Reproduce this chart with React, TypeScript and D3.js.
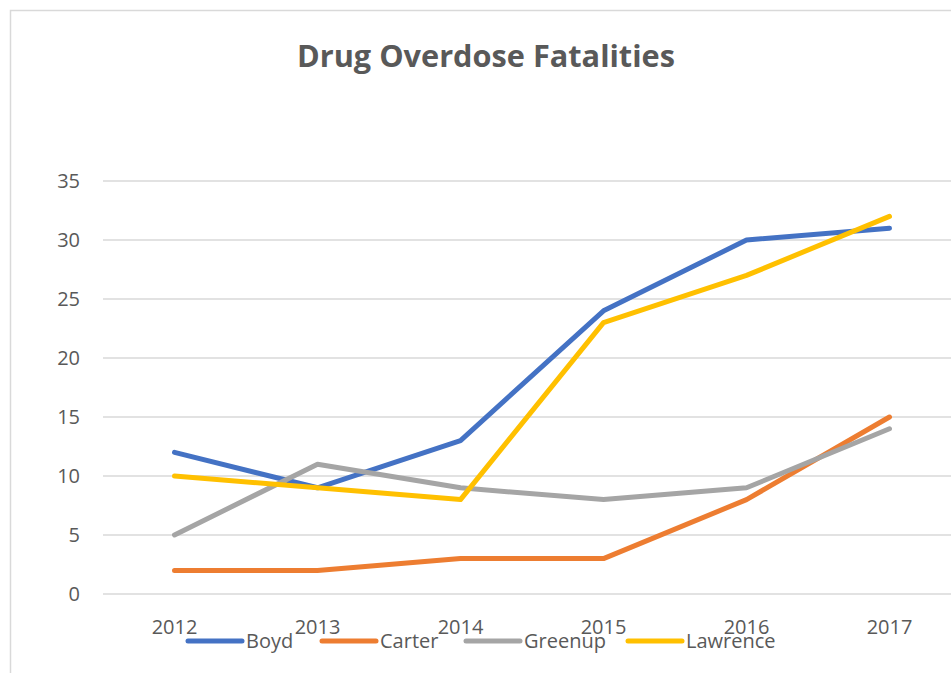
import { useEffect, useRef } from 'react';
import * as d3 from 'd3';

const YEARS = ['2012', '2013', '2014', '2015', '2016', '2017'];
const SERIES_NAMES = ['Boyd', 'Carter', 'Greenup', 'Lawrence'];
const BOYD = [12, 9, 13, 24, 30, 31];
const CARTER = [2, 2, 3, 3, 8, 15];
const GREENUP = [5, 11, 9, 8, 9, 14];
const LAWRENCE = [10, 9, 8, 23, 27, 32];
const Y_TICKS = [0, 5, 10, 15, 20, 25, 30, 35];
const COLORS = ['#4472C4', '#ED7D31', '#A5A5A5', '#FFC000'];

const W = 951;
const H = 673;
const FONT = '"Open Sans", "Noto Sans", sans-serif';

export default function App() {
  const svgRef = useRef<SVGSVGElement>(null);

  useEffect(() => {
    if (!svgRef.current) return;
    const svg = d3.select(svgRef.current);
    svg.selectAll('*').remove();

    const values = [BOYD, CARTER, GREENUP, LAWRENCE];
    const margin = { top: 181, left: 103, bottom: 594 };
    const plotRight = 961;

    // chart frame, runs off the right and bottom edges like the original
    svg.append('rect')
      .attr('x', 10.5).attr('y', 10.5)
      .attr('width', 980).attr('height', 700)
      .attr('fill', '#fff').attr('stroke', '#d9d9d9').attr('stroke-width', 1.5);

    const x = d3.scaleBand().domain(YEARS).range([margin.left, plotRight]);
    const y = d3.scaleLinear().domain([0, 35]).range([margin.bottom, margin.top]);

    // gridlines
    svg.append('g')
      .selectAll('line')
      .data(Y_TICKS)
      .join('line')
      .attr('x1', margin.left).attr('x2', plotRight)
      .attr('y1', (d) => y(d)).attr('y2', (d) => y(d))
      .attr('stroke', '#d9d9d9').attr('stroke-width', 1.5);

    // y labels
    svg.append('g')
      .selectAll('text')
      .data(Y_TICKS)
      .join('text')
      .attr('x', 80).attr('y', (d) => y(d))
      .attr('dy', '0.35em')
      .attr('text-anchor', 'end')
      .style('font-family', FONT).style('font-size', '20px').style('fill', '#595959')
      .text((d) => d);

    // x labels
    svg.append('g')
      .selectAll('text')
      .data(YEARS)
      .join('text')
      .attr('x', (d) => (x(d) ?? 0) + x.bandwidth() / 2)
      .attr('y', 634)
      .attr('text-anchor', 'middle')
      .style('font-family', FONT).style('font-size', '20px').style('fill', '#595959')
      .text((d) => d);

    const line = d3.line<number>()
      .x((_, i) => (x(YEARS[i]) ?? 0) + x.bandwidth() / 2)
      .y((d) => y(d));

    values.forEach((vals, i) => {
      svg.append('path')
        .datum(vals)
        .attr('d', line)
        .attr('fill', 'none')
        .attr('stroke', COLORS[i])
        .attr('stroke-width', 5)
        .attr('stroke-linecap', 'round')
        .attr('stroke-linejoin', 'round');
    });

    // title
    svg.append('text')
      .attr('x', 486).attr('y', 67)
      .attr('text-anchor', 'middle')
      .style('font-family', FONT).style('font-size', '30.7px').style('font-weight', 'bold')
      .style('fill', '#595959')
      .text('Drug Overdose Fatalities');

    // legend
    const legendX = [188, 322, 466, 628];
    const legend = svg.append('g')
      .selectAll('g')
      .data(SERIES_NAMES)
      .join('g')
      .attr('transform', (_, i) => `translate(${legendX[i]},641)`);
    legend.append('line')
      .attr('x1', 0).attr('x2', 54)
      .attr('stroke', (_, i) => COLORS[i])
      .attr('stroke-width', 5)
      .attr('stroke-linecap', 'round');
    legend.append('text')
      .attr('x', 58).attr('dy', '0.35em')
      .style('font-family', FONT).style('font-size', '20px').style('fill', '#595959')
      .text((d) => d);
  }, []);

  return (
    <svg
      ref={svgRef}
      width={W}
      height={H}
      style={{ position: 'fixed', left: 0, top: 0, display: 'block', background: '#fff' }}
    />
  );
}
